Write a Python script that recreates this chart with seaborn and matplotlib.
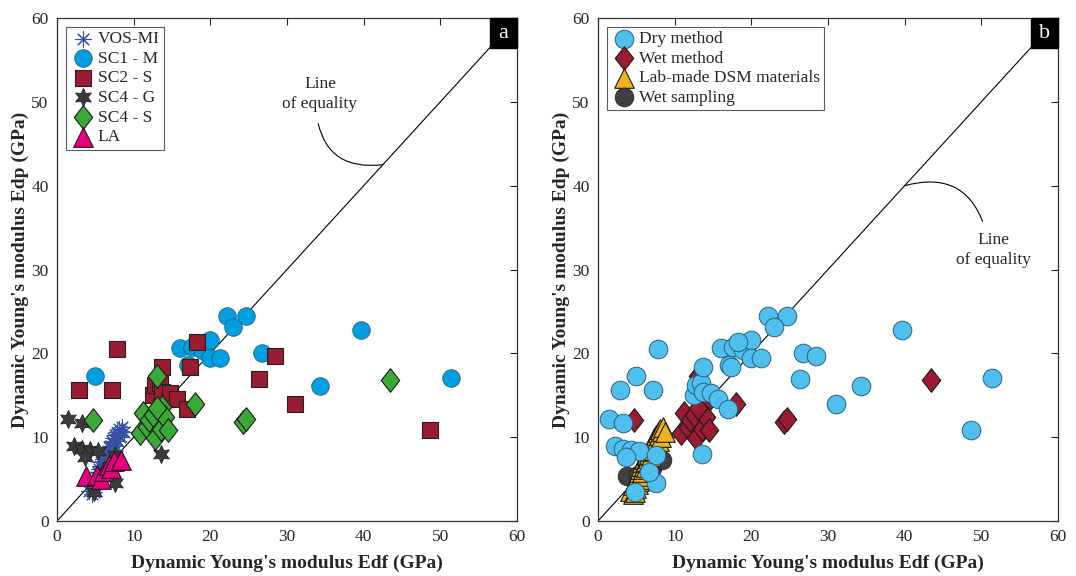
import numpy as np
import pandas as pd
import matplotlib
matplotlib.use('Agg')
import matplotlib.pyplot as plt
import seaborn as sns
from matplotlib.patches import Rectangle

sns.set_style('white')
plt.rcParams.update({'font.family': 'serif',
                     'font.serif': ['Liberation Serif', 'DejaVu Serif'],
                     'font.size': 12})

# ---------------------------------------------------------------------------
# DATA  (Edf, Edp) in GPa
vos_x = [4.2, 4.5, 4.6, 4.8, 4.9, 5.0, 5.1, 5.2, 5.3, 5.3, 5.4, 5.5, 5.6, 5.6,
         5.7, 5.8, 5.9, 6.0, 6.0, 6.1, 6.2, 6.3, 6.3, 6.4, 6.5, 6.6, 6.6, 6.7,
         6.8, 6.9, 7.0, 7.0, 7.1, 7.2, 7.3, 7.3, 7.4, 7.5, 7.6, 7.7, 7.8, 7.9,
         8.0, 8.1, 8.2, 8.3, 8.5, 8.7]
vos_y = [3.6, 3.2, 4.3, 3.5, 4.8, 3.9, 5.3, 4.4, 5.9, 4.8, 5.0, 6.2, 5.4, 6.6,
         5.9, 7.0, 6.2, 7.4, 6.6, 7.0, 7.9, 7.2, 6.5, 8.0, 7.5, 8.4, 7.0, 8.0,
         8.8, 7.7, 9.0, 8.3, 8.8, 9.5, 8.5, 9.9, 9.2, 10.2, 9.0, 9.8, 10.6, 9.5,
         10.3, 11.0, 10.0, 10.7, 11.2, 10.6]

sc1m_x = [5.0, 16.0, 17.6, 18.9, 20.0, 20.0, 21.3, 17.1, 22.2, 24.7, 23.0,
          26.7, 34.3, 39.6, 51.4]
sc1m_y = [17.3, 20.6, 20.8, 20.4, 21.6, 19.4, 19.4, 18.6, 24.4, 24.4, 23.1,
          20.0, 16.1, 22.8, 17.1]

sc2s_x = [2.9, 7.2, 7.8, 12.5, 12.8, 13.4, 13.7, 13.7, 14.7, 15.6, 17.0, 17.3,
          18.3, 26.3, 28.4, 31.0, 48.7]
sc2s_y = [15.6, 15.6, 20.5, 15.0, 16.2, 16.5, 15.4, 18.4, 15.3, 14.5, 13.4,
          18.4, 21.3, 16.9, 19.7, 13.9, 10.9]

sc4g_x = [1.4, 3.3, 2.2, 3.2, 4.3, 5.3, 3.6, 7.6, 7.5, 4.8, 13.5, 6.6]
sc4g_y = [12.2, 11.7, 9.0, 8.6, 8.5, 8.3, 7.6, 7.9, 4.5, 3.5, 8.0, 5.8]

sc4s_x = [4.7, 10.8, 11.2, 11.7, 12.0, 12.5, 12.8, 13.0, 13.5, 13.7, 14.1,
          14.5, 13.0, 18.0, 24.3, 24.6, 43.4]
sc4s_y = [12.1, 10.5, 12.9, 11.2, 12.0, 12.6, 9.9, 17.3, 11.0, 13.6, 12.4,
          10.9, 13.5, 13.9, 11.8, 12.2, 16.8]

la_x = [3.8, 5.2, 5.7, 6.1, 6.8, 7.0, 7.4, 8.3]
la_y = [5.4, 5.5, 5.0, 6.0, 6.7, 6.3, 7.2, 7.3]

groups_a = ['VOS-MI', 'SC1 - M', 'SC2 - S', 'SC4 - G', 'SC4 - S', 'LA']
# regrouping of the same samples for panel b
method_of = {'VOS-MI': 'Lab-made DSM materials', 'SC1 - M': 'Dry method',
             'SC2 - S': 'Dry method', 'SC4 - G': 'Dry method',
             'SC4 - S': 'Wet method', 'LA': 'Wet sampling'}
groups_b = ['Dry method', 'Wet method', 'Lab-made DSM materials', 'Wet sampling']

frames = []
for g, xs, ys in zip(groups_a,
                     [vos_x, sc1m_x, sc2s_x, sc4g_x, sc4s_x, la_x],
                     [vos_y, sc1m_y, sc2s_y, sc4g_y, sc4s_y, la_y]):
    frames.append(pd.DataFrame({'Edf': xs, 'Edp': ys, 'group': g}))
df = pd.concat(frames, ignore_index=True)
df['method'] = df['group'].map(method_of)

# ---------------------------------------------------------------------------
diamond = [(0, 1), (0.78, 0), (0, -1), (-0.78, 0), (0, 1)]
star6 = (6, 1, 0)

style_a = {
    'VOS-MI':  dict(marker=(8, 2, 0), color='#3552a3', s=120, linewidth=0.8),
    'SC1 - M': dict(marker='o', color='#009fe3', s=160, edgecolor='#2a5f80', linewidth=0.6),
    'SC2 - S': dict(marker='s', color='#9b1b30', s=135, edgecolor='#222222', linewidth=0.8),
    'SC4 - G': dict(marker=star6, color='#3b3b3b', s=170, edgecolor='#222222', linewidth=0.6),
    'SC4 - S': dict(marker=diamond, color='#3aa935', s=290, edgecolor='#1a1a1a', linewidth=0.8),
    'LA':      dict(marker='^', color='#e6007e', s=200, edgecolor='#1a1a1a', linewidth=0.8),
}
style_b = {
    'Wet sampling': dict(marker='o', color='#404040', s=180, edgecolor='#222222', linewidth=0.6),
    'Lab-made DSM materials': dict(marker='^', color='#f2b31a', s=200, edgecolor='#1a1a1a', linewidth=0.8),
    'Wet method': dict(marker=diamond, color='#9b1b30', s=290, edgecolor='#1a1a1a', linewidth=0.8),
    'Dry method': dict(marker='o', color='#4fbfee', s=180, edgecolor='#2a5f80', linewidth=0.7),
}

fig = plt.figure(figsize=(10.76, 5.76), dpi=100)
ax1 = fig.add_axes([57/1076, 55/576, 460/1076, 503/576])
ax2 = fig.add_axes([598/1076, 55/576, 460/1076, 503/576])

for g in groups_a:
    sub = df[df['group'] == g]
    sns.scatterplot(data=sub, x='Edf', y='Edp', ax=ax1, label=g, zorder=3,
                    **style_a[g])

for m in ['Wet sampling', 'Lab-made DSM materials', 'Wet method', 'Dry method']:
    sub = df[df['method'] == m]
    sns.scatterplot(data=sub, x='Edf', y='Edp', ax=ax2, label=m, zorder=3,
                    **style_b[m])

def finish(ax, letter, txt_xy, end_xy, relpos, rad):
    ax.plot([0, 60], [0, 60], color='k', lw=0.8, zorder=2)
    ax.set_xlim(0, 60)
    ax.set_ylim(0, 60)
    ax.set_xticks(range(0, 61, 10))
    ax.set_yticks(range(0, 61, 10))
    ax.tick_params(direction='in', top=True, right=True, length=5, width=0.8,
                   labelsize=12.5, pad=6)
    for sp_ in ax.spines.values():
        sp_.set_color('#333333')
        sp_.set_linewidth(0.9)
    ax.set_xlabel("Dynamic Young's modulus Edf (GPa)", fontsize=14,
                  fontweight='bold', labelpad=7)
    ax.set_ylabel("Dynamic Young's modulus Edp (GPa)", fontsize=14,
                  fontweight='bold', labelpad=2)
    ax.add_patch(Rectangle((1 - 27/460, 1 - 30/503), 27/460, 30/503,
                           transform=ax.transAxes, color='k', zorder=5,
                           clip_on=False))
    ax.text(1 - 13.5/460, 1 - 16/503, letter, transform=ax.transAxes,
            color='white', ha='center', va='center', fontsize=16, zorder=6)
    ax.annotate('Line\nof equality', xy=end_xy, xytext=txt_xy,
                ha='center', va='center', fontsize=12.5, linespacing=1.3,
                arrowprops=dict(arrowstyle='-', color='k', lw=0.8,
                                relpos=relpos, shrinkA=6, shrinkB=0,
                                connectionstyle='arc3,rad=%s' % rad))

finish(ax1, 'a', (34.3, 50.9), (42.5, 42.5), (0.45, 0.0), 0.5)
finish(ax2, 'b', (51.6, 32.3), (40.0, 40.0), (0.4, 1.0), 0.5)

leg1 = ax1.legend(loc='upper left', frameon=True, fancybox=False,
                  edgecolor='#333333', fontsize=12.5, handletextpad=0.1,
                  borderpad=0.25, labelspacing=0.2, borderaxespad=0.5,
                  handlelength=1.5)
h, l = ax2.get_legend_handles_labels()
order = [l.index(m) for m in groups_b]
leg2 = ax2.legend([h[i] for i in order], [l[i] for i in order],
                  loc='upper left', frameon=True, fancybox=False,
                  edgecolor='#333333', fontsize=12.5, handletextpad=0.1,
                  borderpad=0.25, labelspacing=0.2, borderaxespad=0.5,
                  handlelength=1.5)
for leg in (leg1, leg2):
    leg.get_frame().set_linewidth(0.8)
    leg.set_zorder(10)

fig.savefig('out.png', dpi=100)
